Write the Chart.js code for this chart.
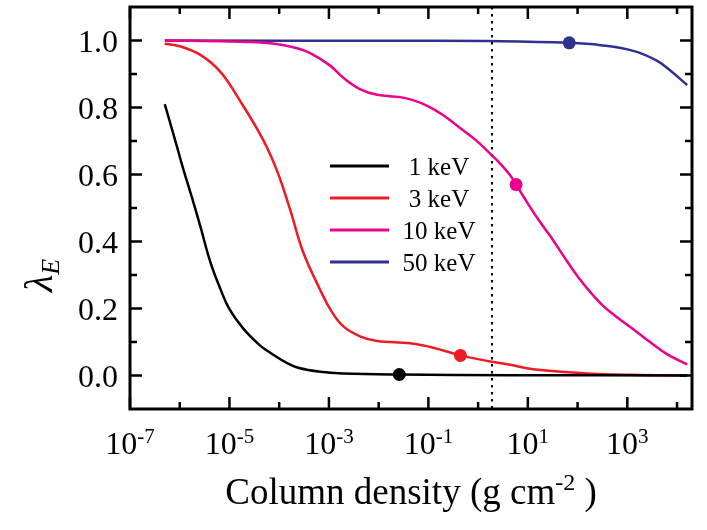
<!DOCTYPE html>
<html>
<head>
<meta charset="utf-8">
<script src="https://cdn.jsdelivr.net/npm/chart.js@4.4.0/dist/chart.umd.min.js"></script>
<style>
  body { margin: 0; background: #ffffff; }
  #wrap { width: 707px; height: 530px; }
</style>
</head>
<body>
<div id="wrap"><canvas id="Chart" width="707" height="530"></canvas></div>
<script>
//series: [column density (g cm-2), lambda_E]
var kev1 = [
  [5e-7, 0.81], [8e-7, 0.705], [1.16e-6, 0.62], [1.77e-6, 0.53], [2.6e-6, 0.445],
  [4.1e-6, 0.34], [6.5e-6, 0.26], [1e-5, 0.198], [1.9e-5, 0.14], [4.1e-5, 0.09],
  [6.6e-5, 0.068], [1.44e-4, 0.037], [2.4e-4, 0.023], [6.7e-4, 0.011], [1.9e-3, 0.006],
  [0.026, 0.003], [4.4, 0.001], [1.6e4, 0.0]
];
var kev3 = [
  [5e-7, 0.99], [1e-6, 0.983], [2.6e-6, 0.957], [6.5e-6, 0.907], [1.6e-5, 0.822],
  [4.7e-5, 0.705], [9.1e-5, 0.61], [1.66e-4, 0.495], [3.0e-4, 0.37], [6.7e-4, 0.255],
  [1.06e-3, 0.198], [1.9e-3, 0.148], [4.2e-3, 0.117], [9.3e-3, 0.103], [0.043, 0.096],
  [0.125, 0.083], [0.44, 0.060], [1.75, 0.042], [4.4, 0.032], [12.8, 0.019],
  [130, 0.007], [1150, 0.002], [1.6e4, 0.0]
];
var kev10 = [
  [5e-7, 1.0], [1e-5, 0.997], [6.6e-5, 0.992], [2.3e-4, 0.977], [4.2e-4, 0.962],
  [1.06e-3, 0.925], [1.9e-3, 0.89], [4.2e-3, 0.855], [9.3e-3, 0.838],
  [0.027, 0.831], [0.049, 0.822], [0.095, 0.805], [0.20, 0.777], [0.44, 0.738],
  [0.96, 0.699], [1.9, 0.657], [2.8, 0.632], [4.4, 0.598], [5.8, 0.570], [8.1, 0.535],
  [15.5, 0.470], [28, 0.417], [52, 0.357], [99, 0.297], [180, 0.249], [330, 0.207],
  [630, 0.173], [1320, 0.138], [2900, 0.099], [6400, 0.063], [1.6e4, 0.033]
];
var kev50 = [
  [5e-7, 1.0], [0.027, 0.999], [2.8, 0.998], [68, 0.993], [290, 0.986],
  [1320, 0.969], [4000, 0.939], [8400, 0.903], [1.6e4, 0.867]
];

//marked points on each curve
var marks1 = [[0.026, 0.003]];
var marks3 = [[0.44, 0.060]];
var marks10 = [[5.8, 0.570]];
var marks50 = [[68, 0.993]];

//dotted vertical line
var markLineX = 1.9;

var seriesLabels = ["1 keV", "3 keV", "10 keV", "50 keV"];
var seriesColors = ["#000000", "#ed1c24", "#ec008c", "#2e3192"];

//axis ticks
var xMajorTicks = [1e-7, 1e-5, 1e-3, 1e-1, 1e1, 1e3];
var xTickExps = ["-7", "-5", "-3", "-1", "1", "3"];
var xMinorTicks = [1e-6, 1e-4, 1e-2, 1, 1e2, 1e4];
var yMajorTicks = [0, 0.2, 0.4, 0.6, 0.8, 1.0];
var yTickLabels = ["0.0", "0.2", "0.4", "0.6", "0.8", "1.0"];
var yMinorTicks = [0.1, 0.3, 0.5, 0.7, 0.9];

function toPoints(arr) {
  return arr.map(function (p) { return { x: p[0], y: p[1] }; });
}

var serif = '"Liberation Serif", "DejaVu Serif", serif';

//frame, inward ticks, labels and legend
var framePlugin = {
  id: "frame",
  beforeDatasetsDraw: function (chart) {
    var ctx = chart.ctx;
    var a = chart.chartArea;
    var xs = chart.scales.x;
    var px = xs.getPixelForValue(markLineX);
    ctx.save();
    ctx.strokeStyle = "#000";
    ctx.lineWidth = 2;
    ctx.setLineDash([2.5, 4.5]);
    ctx.beginPath();
    ctx.moveTo(px, a.top);
    ctx.lineTo(px, a.bottom);
    ctx.stroke();
    ctx.restore();
  },
  afterDatasetsDraw: function (chart) {
    var ctx = chart.ctx;
    var a = chart.chartArea;
    var xs = chart.scales.x;
    var ys = chart.scales.y;
    ctx.save();
    ctx.strokeStyle = "#000";
    ctx.fillStyle = "#000";
    ctx.lineWidth = 3;
    ctx.strokeRect(a.left, a.top, a.right - a.left, a.bottom - a.top);

    ctx.lineWidth = 2.5;
    ctx.beginPath();
    function xTick(v, len) {
      var p = xs.getPixelForValue(v);
      ctx.moveTo(p, a.bottom); ctx.lineTo(p, a.bottom - len);
      ctx.moveTo(p, a.top); ctx.lineTo(p, a.top + len);
    }
    function yTick(v, len) {
      var p = ys.getPixelForValue(v);
      ctx.moveTo(a.left, p); ctx.lineTo(a.left + len, p);
      ctx.moveTo(a.right, p); ctx.lineTo(a.right - len, p);
    }
    xMajorTicks.forEach(function (v) { xTick(v, 12); });
    xMinorTicks.forEach(function (v) { xTick(v, 7); });
    yMajorTicks.forEach(function (v) { yTick(v, 12); });
    yMinorTicks.forEach(function (v) { yTick(v, 7); });
    ctx.stroke();

    //y tick labels
    ctx.font = "32px " + serif;
    ctx.textAlign = "right";
    ctx.textBaseline = "alphabetic";
    yMajorTicks.forEach(function (v, i) {
      ctx.fillText(yTickLabels[i], a.left - 12, ys.getPixelForValue(v) + 11);
    });

    //x tick labels with superscript exponents
    ctx.textAlign = "left";
    xMajorTicks.forEach(function (v, i) {
      var p = xs.getPixelForValue(v);
      ctx.font = "32px " + serif;
      var wb = ctx.measureText("10").width;
      ctx.font = "21px " + serif;
      var ws = ctx.measureText(xTickExps[i]).width;
      var x0 = p - (wb + ws) / 2;
      ctx.font = "32px " + serif;
      ctx.fillText("10", x0, 454);
      ctx.font = "21px " + serif;
      ctx.fillText(xTickExps[i], x0 + wb, 443);
    });

    //x axis title
    var t1 = "Column density (g cm";
    var t2 = "-2";
    var t3 = " )";
    ctx.font = "37px " + serif;
    var w1 = ctx.measureText(t1).width;
    var w3 = ctx.measureText(t3).width;
    ctx.font = "24px " + serif;
    var w2 = ctx.measureText(t2).width;
    var tx = (a.left + a.right) / 2 - (w1 + w2 + w3) / 2;
    ctx.font = "37px " + serif;
    ctx.fillText(t1, tx, 504);
    ctx.fillText(t3, tx + w1 + w2, 504);
    ctx.font = "24px " + serif;
    ctx.fillText(t2, tx + w1, 490);

    //y axis title
    ctx.save();
    ctx.translate(52, 292);
    ctx.rotate(-Math.PI / 2);
    ctx.font = "italic 40px " + serif;
    var wl = ctx.measureText("\u03bb").width;
    ctx.fillText("\u03bb", 0, 0);
    ctx.font = "italic 26px " + serif;
    ctx.fillText("E", wl, 7);
    ctx.restore();

    //legend
    ctx.font = "25px " + serif;
    ctx.textAlign = "center";
    seriesLabels.forEach(function (lab, i) {
      var ry = 166 + i * 32;
      ctx.strokeStyle = seriesColors[i];
      ctx.lineWidth = 3;
      ctx.beginPath();
      ctx.moveTo(330, ry);
      ctx.lineTo(389, ry);
      ctx.stroke();
      ctx.fillText(lab, 439, ry + 9);
    });
    ctx.restore();
  },
};

function lineSet(lab, data, color) {
  return {
    label: lab,
    data: toPoints(data),
    borderColor: color,
    backgroundColor: color,
    borderWidth: 2.5,
    showLine: true,
    pointRadius: 0,
    tension: 0.4,
  };
}

function dotSet(lab, data, color) {
  return {
    label: lab,
    data: toPoints(data),
    borderColor: color,
    backgroundColor: color,
    pointRadius: 6.5,
    pointBorderWidth: 0,
    showLine: false,
  };
}

var ctx = document.getElementById("Chart").getContext("2d");
var myChart = new Chart(ctx, {
  type: "scatter",
  data: {
    datasets: [
      lineSet(seriesLabels[0], kev1, seriesColors[0]),
      lineSet(seriesLabels[1], kev3, seriesColors[1]),
      lineSet(seriesLabels[2], kev10, seriesColors[2]),
      lineSet(seriesLabels[3], kev50, seriesColors[3]),
      dotSet("m1", marks1, seriesColors[0]),
      dotSet("m3", marks3, seriesColors[1]),
      dotSet("m10", marks10, seriesColors[2]),
      dotSet("m50", marks50, seriesColors[3]),
    ],
  },
  options: {
    responsive: false,
    animation: false,
    layout: { padding: { left: 130, right: 15, top: 7, bottom: 121 } },
    plugins: {
      legend: { display: false },
      tooltip: { enabled: false },
    },
    scales: {
      x: {
        type: "logarithmic",
        min: 1e-7,
        max: 2e4,
        grid: { display: false, drawTicks: false },
        border: { display: false },
        ticks: { display: false },
      },
      y: {
        type: "linear",
        min: -0.1,
        max: 1.1,
        grid: { display: false, drawTicks: false },
        border: { display: false },
        ticks: { display: false },
      },
    },
  },
  plugins: [framePlugin],
});
</script>
</body>
</html>
